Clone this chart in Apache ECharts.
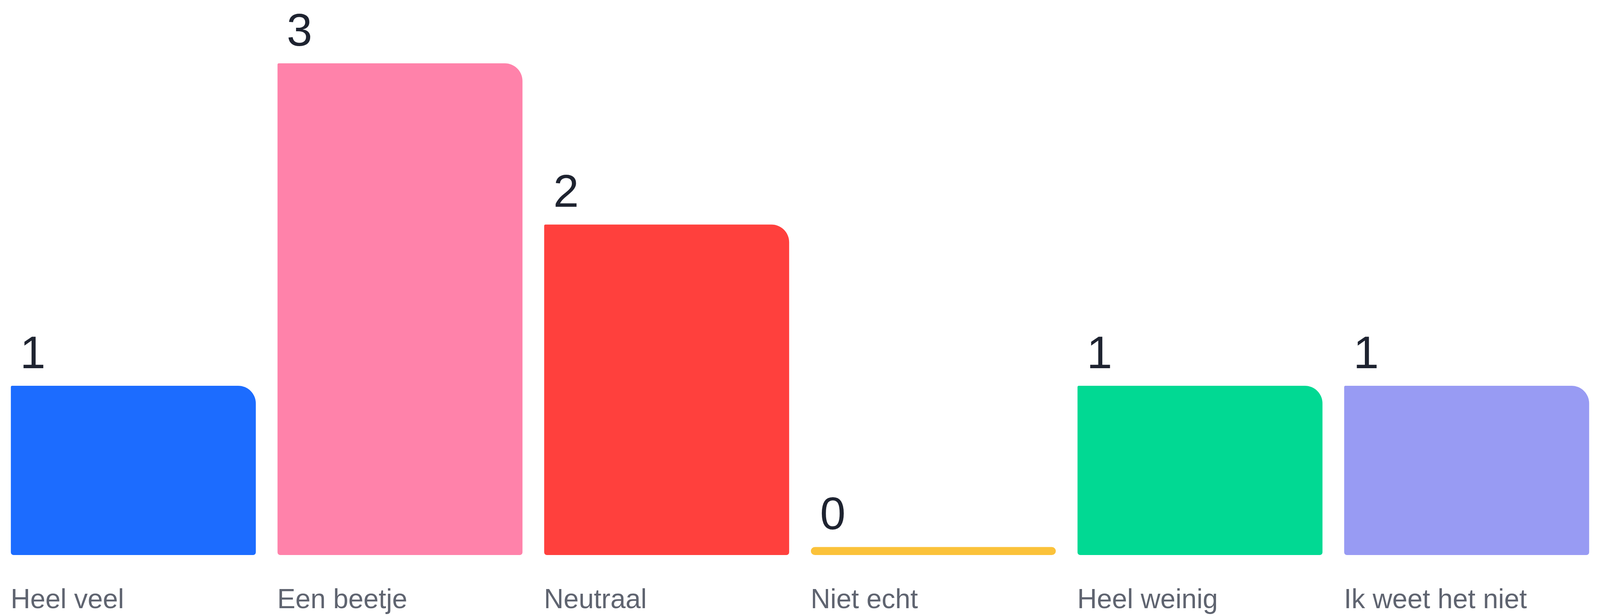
<!DOCTYPE html>
<html>
<head>
<meta charset="utf-8">
<script src="https://cdn.jsdelivr.net/npm/echarts@6/dist/echarts.min.js"></script>
<style>
html,body{margin:0;padding:0;background:#ffffff;overflow:hidden;}
#chart{width:100vw;height:100vh;}
</style>
</head>
<body>
<div id="chart"></div>
<script>
const categories = ['Heel veel', 'Een beetje', 'Neutraal', 'Niet echt', 'Heel weinig', 'Ik weet het niet'];
const values = [1, 3, 2, 0, 1, 1];
const palette = ['#1c6cff', '#ff82aa', '#ff403d', '#fbc23a', '#01d993', '#989bf3'];

const chart = echarts.init(document.getElementById('chart'), null, {renderer: 'canvas'});
const W = chart.getWidth();
const H = chart.getHeight();
const sx = W / 4706;
const sy = H / 1576;
const sf = Math.min(sx, sy);

const option = {
  animation: false,
  backgroundColor: '#ffffff',
  grid: {left: -1 * sx, width: 4716 * sx, top: 162 * sy, bottom: 156 * sy, containLabel: false},
  xAxis: {
    type: 'category',
    data: categories,
    axisLine: {show: false},
    axisTick: {show: false},
    splitLine: {show: false},
    axisLabel: {
      interval: 0,
      margin: 82 * sy,
      fontSize: 80 * sf,
      fontFamily: 'Liberation Sans',
      color: '#5f6470',
      formatter: function (v) { return '{a|' + v + '}'; },
      rich: {
        a: {width: 722 * sx, align: 'left', fontSize: 80 * sf, lineHeight: 80 * sf, color: '#5f6470', fontFamily: 'Liberation Sans'}
      }
    }
  },
  yAxis: {
    type: 'value',
    min: -0.05,
    max: 3,
    startValue: -0.05,
    show: false,
    splitLine: {show: false}
  },
  series: [{
    type: 'bar',
    barWidth: '91.86%',
    data: values.map(function (v, i) {
      return {
        value: v,
        itemStyle: {
          color: palette[i],
          borderRadius: v === 0 ? 11 * sy : [4 * sf, 52 * sf, 8 * sf, 8 * sf]
        }
      };
    }),
    label: {
      show: true,
      position: [27 * sx, -19 * sy],
      align: 'left',
      verticalAlign: 'bottom',
      fontSize: 135 * sf,
      lineHeight: 135 * sf,
      color: '#1e2330',
      fontFamily: 'Liberation Sans'
    }
  }]
};
chart.setOption(option);
</script>
</body>
</html>
